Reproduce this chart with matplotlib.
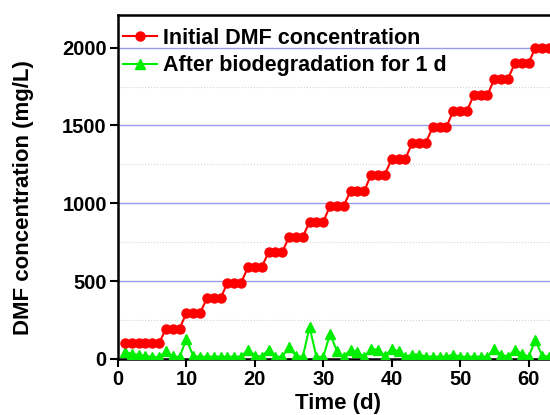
import matplotlib
matplotlib.use("Agg")
import matplotlib.pyplot as plt
from matplotlib.ticker import MultipleLocator

plt.rcParams['font.family'] = ['Liberation Sans', 'DejaVu Sans']
plt.rcParams['font.weight'] = 'bold'

days = list(range(1, 64))
initial_levels = [100, 195, 295, 390, 490, 590, 685, 785, 880, 985, 1080,
                  1185, 1285, 1390, 1490, 1595, 1695, 1800, 1900, 2000]
initial_repeats = [6] + [3] * 19
initial = []
for lv, n in zip(initial_levels, initial_repeats):
    initial += [lv] * n

after = [43, 34, 26, 21, 13, 13, 49, 17, 13, 128,
         17, 15, 15, 15, 15, 15, 15, 15, 60, 21,
         15, 60, 15, 15, 77, 20, 13, 205, 13, 13,
         163, 49, 15, 60, 43, 15, 64, 60, 20, 64,
         49, 15, 28, 28, 15, 15, 15, 15, 28, 15,
         15, 15, 15, 15, 66, 28, 15, 60, 34, 15,
         120, 20, 15]

xticks = [0, 10, 20, 30, 40, 50, 60]
yticks = [0, 500, 1000, 1500, 2000]

fig = plt.figure(figsize=(5.5, 4.15), dpi=100)
ax = fig.add_axes([0.2145, 0.135, 0.80, 0.829])

ax.plot(days, initial, '-o', color='#ff0000', lw=1.5, ms=6.5, mec='#ff0000',
        label='Initial DMF concentration', zorder=4)
ax.plot(days, after, '-^', color='#00ee00', lw=1.5, ms=7.5, mec='#00ee00',
        label='After biodegradation for 1 d', zorder=3)

ax.set_xlim(0, 64.3)
ax.set_ylim(0, 2210)
ax.set_xticks(xticks)
ax.set_yticks(yticks)
ax.yaxis.set_minor_locator(MultipleLocator(250))
ax.grid(axis='y', which='major', color='#9a9ae8', lw=1.0)
ax.grid(axis='y', which='minor', color='#d4d4d4', lw=0.8, ls=':')
ax.set_axisbelow(True)

for s in ['left', 'top', 'bottom']:
    ax.spines[s].set_linewidth(1.8)
ax.spines['right'].set_visible(False)
ax.tick_params(axis='both', which='major', labelsize=14.5, width=1.5, length=6,
               direction='out', pad=2)
ax.tick_params(axis='y', which='minor', length=0)
for lab in ax.get_xticklabels() + ax.get_yticklabels():
    lab.set_fontweight('bold')

ax.set_xlabel('Time (d)', fontsize=16, fontweight='bold', labelpad=3)
ax.set_ylabel('DMF concentration (mg/L)', fontsize=16, fontweight='bold')
ax.yaxis.set_label_coords(-0.191, 0.468)

leg = ax.legend(loc='upper left', bbox_to_anchor=(-0.019, 1.0), frameon=False,
                prop={'weight': 'bold', 'size': 15.5},
                handlelength=1.6, handletextpad=0.3, borderaxespad=0.4,
                borderpad=0.2, labelspacing=0.3)

fig.savefig('out.png', dpi=100)
